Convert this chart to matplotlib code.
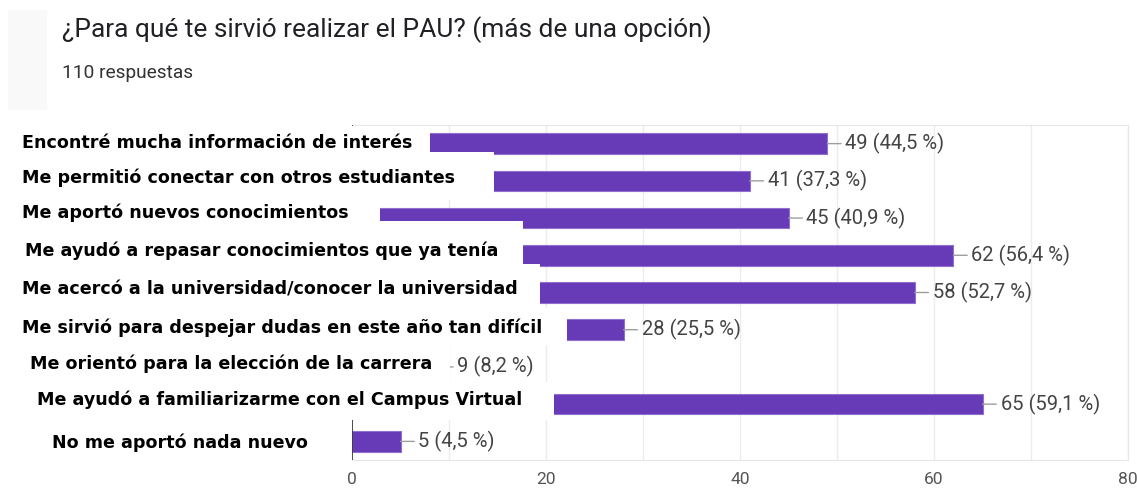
import matplotlib
matplotlib.use("Agg")
import matplotlib.pyplot as plt
from matplotlib.patches import Rectangle

categories = [
    "Encontré mucha información de interés",
    "Me permitió conectar con otros estudiantes",
    "Me aportó nuevos conocimientos",
    "Me ayudó a repasar conocimientos que ya tenía",
    "Me acercó a la universidad/conocer la universidad",
    "Me sirvió para despejar dudas en este año tan difícil",
    "Me orientó para la elección de la carrera",
    "Me ayudó a familiarizarme con el Campus Virtual",
    "No me aportó nada nuevo",
]
counts = [49, 41, 45, 62, 58, 28, 9, 65, 5]
percents = ["44,5", "37,3", "40,9", "56,4", "52,7", "25,5", "8,2", "59,1", "4,5"]
xticks = [0, 20, 40, 60, 80]

title = "¿Para qué te sirvió realizar el PAU? (más de una opción)"
subtitle = "110 respuestas"

W, H = 1137, 495
fig = plt.figure(figsize=(W / 100, H / 100), dpi=100)
fig.patch.set_facecolor("white")

def fx(px):
    return px / W

def fy(py):
    return 1 - py / H

# plot area in pixels
L, R, T, B = 352, 1128, 125, 460
ax = fig.add_axes([fx(L), fy(B), fx(R) - fx(L), fy(T) - fy(B)])

PURPLE = "#673ab7"
ypos = list(range(len(categories)))
ax.barh(ypos, counts, height=0.55, color=PURPLE, edgecolor="#8f6fd0",
        linewidth=0.8, zorder=3)
ax.set_xlim(0, 80)
ax.set_ylim(len(categories) - 0.5, -0.5)
ax.set_xticks(xticks)
ax.set_xticks(range(10, 80, 20), minor=True)
ax.set_yticks([])
ax.grid(axis="x", which="both", color="#ececec", linewidth=1, zorder=0)
ax.tick_params(axis="x", which="both", length=0, pad=9, labelsize=12.5,
               labelcolor="#555555")
for lab in ax.get_xticklabels():
    lab.set_fontfamily("Roboto")
for side in ["top", "right", "bottom"]:
    ax.spines[side].set_color("#e6e6e6")
ax.spines["left"].set_visible(False)
ax.axvline(0, color="#333333", linewidth=1.2, zorder=4)

# value labels with leader lines
for i, (c, p) in enumerate(zip(counts, percents)):
    ax.annotate(f"{c} ({p} %)", xy=(c, i), xytext=(18, 0), zorder=12,
                textcoords="offset pixels", ha="left", va="center",
                fontsize=14.5, family="Roboto", color="#444444",
                annotation_clip=False,
                arrowprops=dict(arrowstyle="-", color="#9e9e9e", lw=1,
                                relpos=(0, 0.5), shrinkA=1, shrinkB=0))

# white label boxes covering the start of the bars (edited screenshot)
masks = [  # (x_end, y_top, y_bottom) in pixels
    (430, 126, 152),
    (494, 152, 200),
    (380, 200, 221),
    (523, 221, 264),
    (540, 264, 308),
    (567, 308, 345),
    (450, 345, 382),
    (554, 382, 420),
    (346, 420, 495),
]
for xe, yt, yb in masks:
    fig.patches.append(Rectangle((0, fy(yb)), fx(xe), fy(yt) - fy(yb),
                                 transform=fig.transFigure,
                                 facecolor="white", edgecolor="none",
                                 zorder=1))

# category labels
label_pos = [(22, 143), (22, 178), (22, 213), (25, 251), (22, 290),
             (22, 328), (30, 364), (37, 400), (52, 443)]
for (x, y), txt in zip(label_pos, categories):
    fig.text(fx(x), fy(y), txt, ha="left", va="center", fontsize=12.6,
             family="DejaVu Sans", fontweight="bold", color="#000000",
             zorder=5)

# header
fig.patches.append(Rectangle((fx(8), fy(110)), fx(47) - fx(8), fy(10) - fy(110),
                             transform=fig.transFigure, facecolor="#f9f9fa",
                             edgecolor="none", zorder=0))
fig.text(fx(62), fy(30), title, ha="left", va="center", fontsize=18.9,
         family="Roboto", color="#202124")
fig.text(fx(62), fy(73), subtitle, ha="left", va="center", fontsize=13.8,
         family="Roboto", color="#333333")

fig.savefig("out.png", dpi=100)
